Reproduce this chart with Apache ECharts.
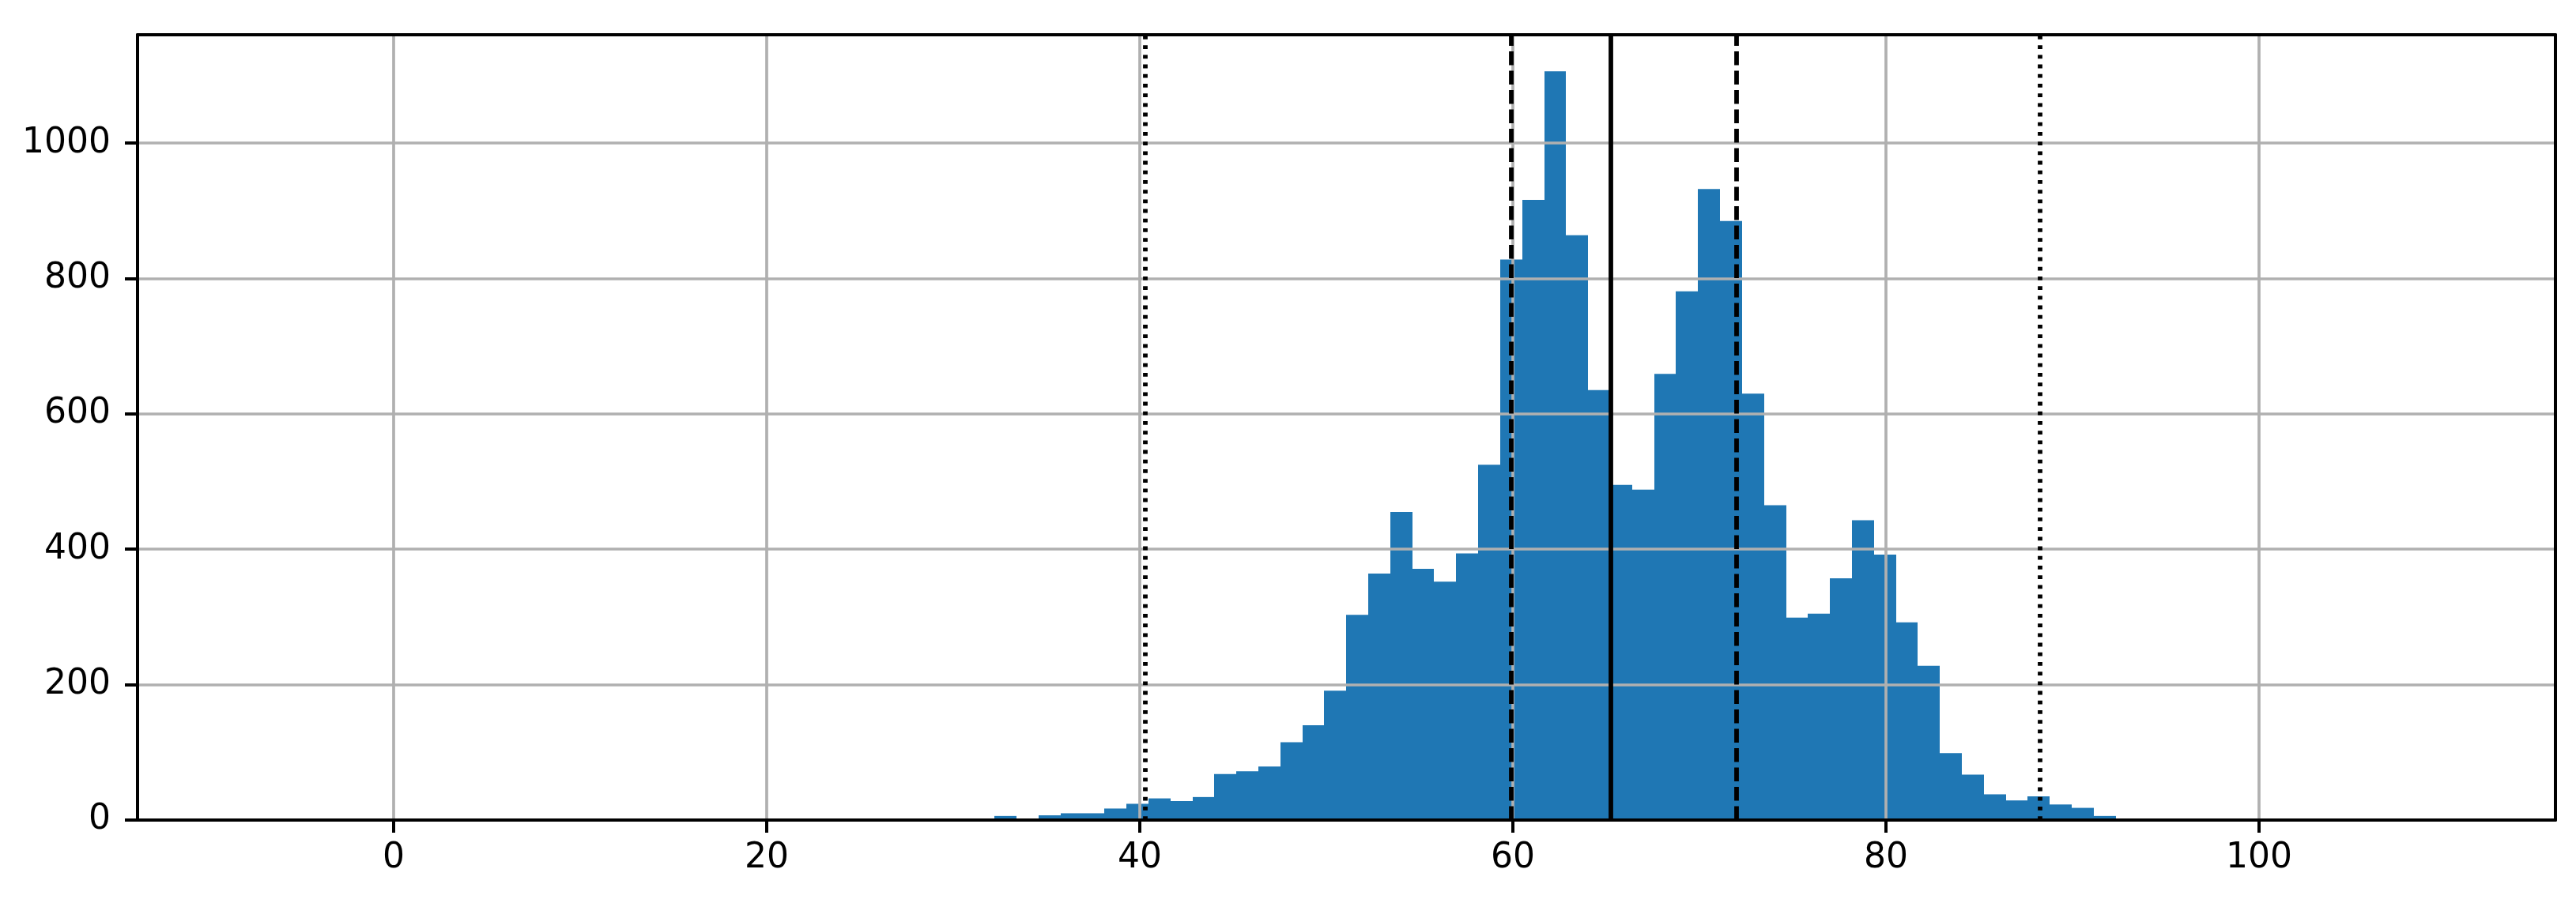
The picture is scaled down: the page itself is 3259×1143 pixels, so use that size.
<!DOCTYPE html>
<html>
<head>
<meta charset="utf-8">
<script src="https://cdn.jsdelivr.net/npm/echarts@6/dist/echarts.min.js"></script>
<style>
  html, body { margin: 0; padding: 0; background: #fff; }
  #chart { width: 3259px; height: 1143px; }
</style>
</head>
<body>
<div id="chart"></div>
<script>
// ---- data ----
const firstBinEdge = 32.21;   // left edge of first non-empty bin
const binWidth = 1.1786;      // histogram bin width
const binCounts = [6, 0, 7, 10, 10, 17, 24, 32, 28, 34, 68, 72, 79, 115, 140, 191, 303, 364, 455, 371,
  352, 394, 525, 828, 916, 1106, 864, 635, 495, 488, 659, 781, 932, 885, 630, 465, 299, 305, 357, 443,
  392, 292, 228, 99, 67, 38, 29, 35, 23, 18, 6];
const xTicks = [0, 20, 40, 60, 80, 100];
const yTicks = [0, 200, 400, 600, 800, 1000];
const xRange = [-13.73, 115.89];
const yRange = [0, 1160];
const dottedLines = [40.27, 88.27];
const dashedLines = [59.92, 71.97];
const solidLines = [65.23];

// ---- build ----
const histData = binCounts.map((c, i) => [firstBinEdge + i * binWidth, firstBinEdge + (i + 1) * binWidth, c]);

const font = 'DejaVu Sans';
const lw = 4;
const vlw = 5.8;
const vlines = [];
dottedLines.forEach(v => vlines.push({ xAxis: v, lineStyle: { color: '#000', width: vlw, type: [4.8, 7.4] } }));
dashedLines.forEach(v => vlines.push({ xAxis: v, lineStyle: { color: '#000', width: vlw, type: [17.5, 7] } }));
solidLines.forEach(v => vlines.push({ xAxis: v, lineStyle: { color: '#000', width: vlw, type: 'solid' } }));

const spineOnly = {
  axisLine: { show: true, onZero: false, lineStyle: { color: '#000', width: lw } },
  axisTick: { show: false }, axisLabel: { show: false }, splitLine: { show: false }
};

const chart = echarts.init(document.getElementById('chart'), null, { renderer: 'canvas' });
chart.setOption({
  animation: false,
  backgroundColor: '#ffffff',
  grid: {
    left: 174, right: 26, top: 44, bottom: 105,
    show: false, containLabel: false
  },
  xAxis: [{
    type: 'value', min: xRange[0], max: xRange[1], z: 3, position: 'bottom',
    axisLine: { show: true, onZero: false, lineStyle: { color: '#000', width: lw } },
    axisTick: { show: true, inside: false, length: 16, customValues: xTicks, lineStyle: { color: '#000', width: lw } },
    axisLabel: { show: true, customValues: xTicks, margin: 27, color: '#000', fontFamily: font, fontSize: 44,
      formatter: v => String(v) },
    splitLine: { show: true, lineStyle: { color: '#b0b0b0', width: 3.7 } }
  }, Object.assign({ type: 'value', min: xRange[0], max: xRange[1], z: 6, position: 'top' }, spineOnly)],
  yAxis: [{
    type: 'value', min: yRange[0], max: yRange[1], z: 3, position: 'left',
    axisLine: { show: true, onZero: false, lineStyle: { color: '#000', width: lw } },
    axisTick: { show: true, inside: false, length: 16, customValues: yTicks, lineStyle: { color: '#000', width: lw } },
    axisLabel: { show: true, customValues: yTicks, margin: 34, color: '#000', fontFamily: font, fontSize: 44,
      formatter: v => String(v) },
    splitLine: { show: true, lineStyle: { color: '#b0b0b0', width: 3.7 } }
  }, Object.assign({ type: 'value', min: yRange[0], max: yRange[1], z: 6, position: 'right' }, spineOnly)],
  series: [
    {
      type: 'custom',
      z: 2,
      silent: true,
      xAxisIndex: 0, yAxisIndex: 0,
      data: histData,
      encode: { x: [0, 1], y: 2 },
      renderItem: function (params, api) {
        const p0 = api.coord([api.value(0), 0]);
        const p1 = api.coord([api.value(1), api.value(2)]);
        const xa = Math.round(p0[0]), xb = Math.round(p1[0]);
        return {
          type: 'rect',
          shape: { x: xa, y: p1[1], width: xb - xa, height: p0[1] - p1[1] },
          style: { fill: '#1f77b4' }
        };
      }
    },
    {
      type: 'line',
      z: 5,
      xAxisIndex: 0, yAxisIndex: 0,
      data: [],
      silent: true,
      markLine: {
        silent: true,
        symbol: ['none', 'none'],
        label: { show: false },
        lineStyle: { color: '#000', width: vlw },
        emphasis: { disabled: true },
        animation: false,
        data: vlines
      }
    }
  ]
});
</script>
</body>
</html>
